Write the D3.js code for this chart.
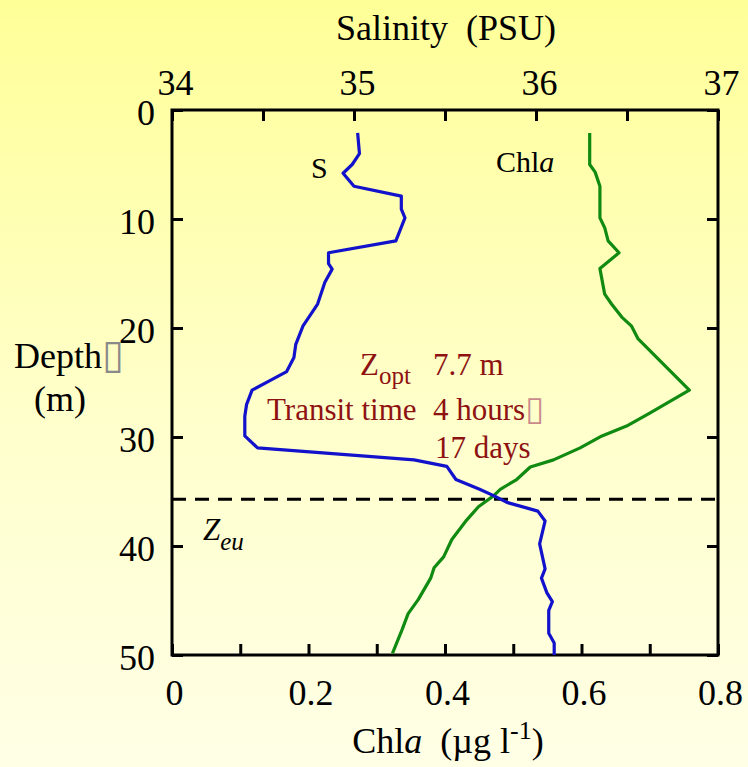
<!DOCTYPE html>
<html>
<head>
<meta charset="utf-8">
<script src="https://cdn.jsdelivr.net/npm/d3@7"></script>
<style>
  html, body { margin: 0; padding: 0; }
  svg { display: block; }
  text { font-family: "Liberation Serif", "Times New Roman", serif; }
</style>
</head>
<body>
<script>
// Salinity profile: depth (m) and salinity (PSU)
const salDepth = [2.1, 4.0, 5.0, 5.8, 7.0, 7.9, 9.1, 9.9, 12.0, 13.1, 14.1, 14.6, 15.8, 17.8, 19.8,
  21.5, 22.7, 24.0, 24.9, 25.7, 27.0, 28.1, 29.9, 31.0, 32.1, 32.7, 33.9, 34.8, 35.4, 36.0, 36.8,
  37.7, 39.8, 42.1, 42.95, 44.3, 45.1, 45.9, 48.0, 48.9, 50.0];
const salValue = [35.02, 35.03, 34.99, 34.94, 35.00, 35.26, 35.26, 35.28, 35.23, 34.86, 34.86, 34.88, 34.84, 34.80, 34.72,
  34.68, 34.67, 34.63, 34.53, 34.44, 34.41, 34.40, 34.40, 34.47, 35.33, 35.51, 35.56, 35.69, 35.77, 35.84, 36.01,
  36.05, 36.02, 36.05, 36.03, 36.06, 36.09, 36.07, 36.07, 36.10, 36.10];

// Chlorophyll a profile: depth (m) and Chl a (µg/l)
const chlDepth = [2.1, 5.0, 5.7, 7.0, 9.9, 10.8, 12.0, 13.1, 14.55, 16.9, 17.8, 19.0, 19.8, 21.0,
  25.7, 27.8, 29.0, 29.9, 31.0, 32.1, 32.75, 33.9, 34.8, 35.4, 36.4, 37.6, 39.4, 41.0, 42.0, 42.95,
  44.9, 46.2, 47.7, 49.85];
const chlValue = [0.612, 0.612, 0.620, 0.627, 0.627, 0.634, 0.639, 0.655, 0.627, 0.634, 0.644, 0.659, 0.673, 0.683,
  0.758, 0.700, 0.666, 0.630, 0.598, 0.559, 0.525, 0.505, 0.481, 0.471, 0.449, 0.432, 0.410, 0.398, 0.384, 0.379,
  0.361, 0.346, 0.337, 0.323];

// Euphotic depth (m)
const zEu = 35.7;

// Axis ticks
const salTicks = [34, 34.5, 35, 35.5, 36, 36.5, 37];
const chlTicks = [0, 0.1, 0.2, 0.3, 0.4, 0.5, 0.6, 0.7, 0.8];
const depthTicks = [0, 10, 20, 30, 40, 50];

const W = 748, H = 767;
const M = { left: 172, top: 110 };
const PW = 546, PH = 545;

const svg = d3.select("body").append("svg").attr("width", W).attr("height", H);

// Background gradient
const defs = svg.append("defs");
const grad = defs.append("linearGradient").attr("id", "bg")
  .attr("x1", 0).attr("y1", 0).attr("x2", 0).attr("y2", 1);
grad.append("stop").attr("offset", "0%").attr("stop-color", "#FFFF98");
grad.append("stop").attr("offset", "55%").attr("stop-color", "#FFFFCC");
grad.append("stop").attr("offset", "100%").attr("stop-color", "#FFFFE6");
svg.append("rect").attr("width", W).attr("height", H).attr("fill", "url(#bg)");

const g = svg.append("g").attr("transform", `translate(${M.left},${M.top})`);

const xSal = d3.scaleLinear().domain([34, 37]).range([0, PW]);
const xChl = d3.scaleLinear().domain([0, 0.8]).range([0, PW]);
const y = d3.scaleLinear().domain([0, 50]).range([0, PH]);

const tickFont = 36;
const tickLen = 11;

function styleAxis(sel) {
  sel.select(".domain").remove();
  sel.selectAll(".tick line").attr("stroke", "#000").attr("stroke-width", 3);
  sel.selectAll(".tick text").attr("fill", "#000")
    .style("font-family", '"Liberation Serif", "Times New Roman", serif')
    .style("font-size", tickFont + "px");
}

// Top: salinity
const topAxis = g.append("g")
  .call(d3.axisTop(xSal).tickValues(salTicks).tickSizeInner(-tickLen).tickSizeOuter(0).tickPadding(15)
    .tickFormat(d => Number.isInteger(d) ? String(d) : ""))
  .call(styleAxis);
topAxis.selectAll(".tick text").attr("dx", 3);

// Bottom: chlorophyll
const bottomAxis = g.append("g").attr("transform", `translate(0,${PH})`)
  .call(d3.axisBottom(xChl).tickValues(chlTicks).tickSizeInner(-tickLen).tickSizeOuter(0).tickPadding(24)
    .tickFormat(d => {
      const k = Math.round(d * 10);
      if (k % 2 !== 0) return "";
      return k === 0 ? "0" : d.toFixed(1);
    }))
  .call(styleAxis);
bottomAxis.selectAll(".tick text").attr("dx", 2);

// Left: depth
const leftAxis = g.append("g")
  .call(d3.axisLeft(y).tickValues(depthTicks).tickSizeInner(-tickLen).tickSizeOuter(0).tickPadding(17)
    .tickFormat(d3.format("d")))
  .call(styleAxis);
leftAxis.selectAll(".tick text").attr("dy", "0.4em");

// Right: depth ticks only
g.append("g").attr("transform", `translate(${PW},0)`)
  .call(d3.axisRight(y).tickValues(depthTicks).tickSizeInner(-tickLen).tickSizeOuter(0).tickFormat(""))
  .call(styleAxis);

// Frame
g.append("rect").attr("width", PW).attr("height", PH)
  .attr("fill", "none").attr("stroke", "#000").attr("stroke-width", 3);

// Euphotic depth line
g.append("line")
  .attr("x1", 0).attr("x2", PW)
  .attr("y1", y(zEu)).attr("y2", y(zEu))
  .attr("stroke", "#000").attr("stroke-width", 3)
  .attr("stroke-dasharray", "14,9");

// Profiles
const salLine = d3.line().x(d => xSal(d[1])).y(d => y(d[0]));
const chlLine = d3.line().x(d => xChl(d[1])).y(d => y(d[0]));

g.append("path")
  .datum(d3.zip(chlDepth, chlValue))
  .attr("d", chlLine)
  .attr("fill", "none").attr("stroke", "#118A11").attr("stroke-width", 3.2)
  .attr("stroke-linejoin", "round");

g.append("path")
  .datum(d3.zip(salDepth, salValue))
  .attr("d", salLine)
  .attr("fill", "none").attr("stroke", "#1212CC").attr("stroke-width", 3.2)
  .attr("stroke-linejoin", "round");

// Axis titles
svg.append("text").attr("x", 446).attr("y", 40).attr("text-anchor", "middle")
  .attr("font-size", 36).attr("fill", "#000")
  .text("Salinity\u00A0\u00A0(PSU)");

const bt = svg.append("text").attr("x", 448).attr("y", 753).attr("text-anchor", "middle")
  .attr("font-size", 36).attr("fill", "#000");
bt.append("tspan").text("Chl");
bt.append("tspan").attr("font-style", "italic").text("a");
bt.append("tspan").text("\u00A0\u00A0(\u00B5g l");
bt.append("tspan").attr("font-size", 26).attr("dy", -14).text("-1");
bt.append("tspan").attr("dy", 14).text(")");

const dl = svg.append("text").attr("x", 14).attr("y", 368).attr("font-size", 36).attr("fill", "#000");
dl.append("tspan").text("Depth");
dl.append("tspan").attr("fill", "#8a8a8a").attr("font-family", "DejaVu Sans").attr("font-size", 40).text("\u25AF");
svg.append("text").attr("x", 60).attr("y", 411).attr("text-anchor", "middle")
  .attr("font-size", 36).attr("fill", "#000").text("(m)");

// Curve labels
svg.append("text").attr("x", 311).attr("y", 178).attr("font-size", 30).attr("fill", "#000").text("S");
const cl = svg.append("text").attr("x", 496).attr("y", 172).attr("font-size", 30).attr("fill", "#000");
cl.append("tspan").text("Chl");
cl.append("tspan").attr("font-style", "italic").text("a");

// Annotations
const red = "#8E1212";
const zo = svg.append("text").attr("x", 360).attr("y", 375).attr("font-size", 31).attr("fill", red);
zo.append("tspan").text("Z");
zo.append("tspan").attr("font-size", 25).attr("dy", 9).text("opt");
svg.append("text").attr("x", 433).attr("y", 375).attr("font-size", 31).attr("fill", red).text("7.7 m");

svg.append("text").attr("x", 267).attr("y", 420).attr("font-size", 31).attr("fill", red).text("Transit time");
const th = svg.append("text").attr("x", 433).attr("y", 420).attr("font-size", 31).attr("fill", red);
th.append("tspan").text("4 hours");
th.append("tspan").attr("fill", "#C98A8A").attr("font-family", "DejaVu Sans").attr("font-size", 34).text("\u25AF");
svg.append("text").attr("x", 435).attr("y", 458).attr("font-size", 31).attr("fill", red).text("17 days");

const ze = svg.append("text").attr("x", 203).attr("y", 540).attr("font-size", 31)
  .attr("font-style", "italic").attr("fill", "#000");
ze.append("tspan").text("Z");
ze.append("tspan").attr("font-size", 25).attr("dy", 10).text("eu");
</script>
</body>
</html>
